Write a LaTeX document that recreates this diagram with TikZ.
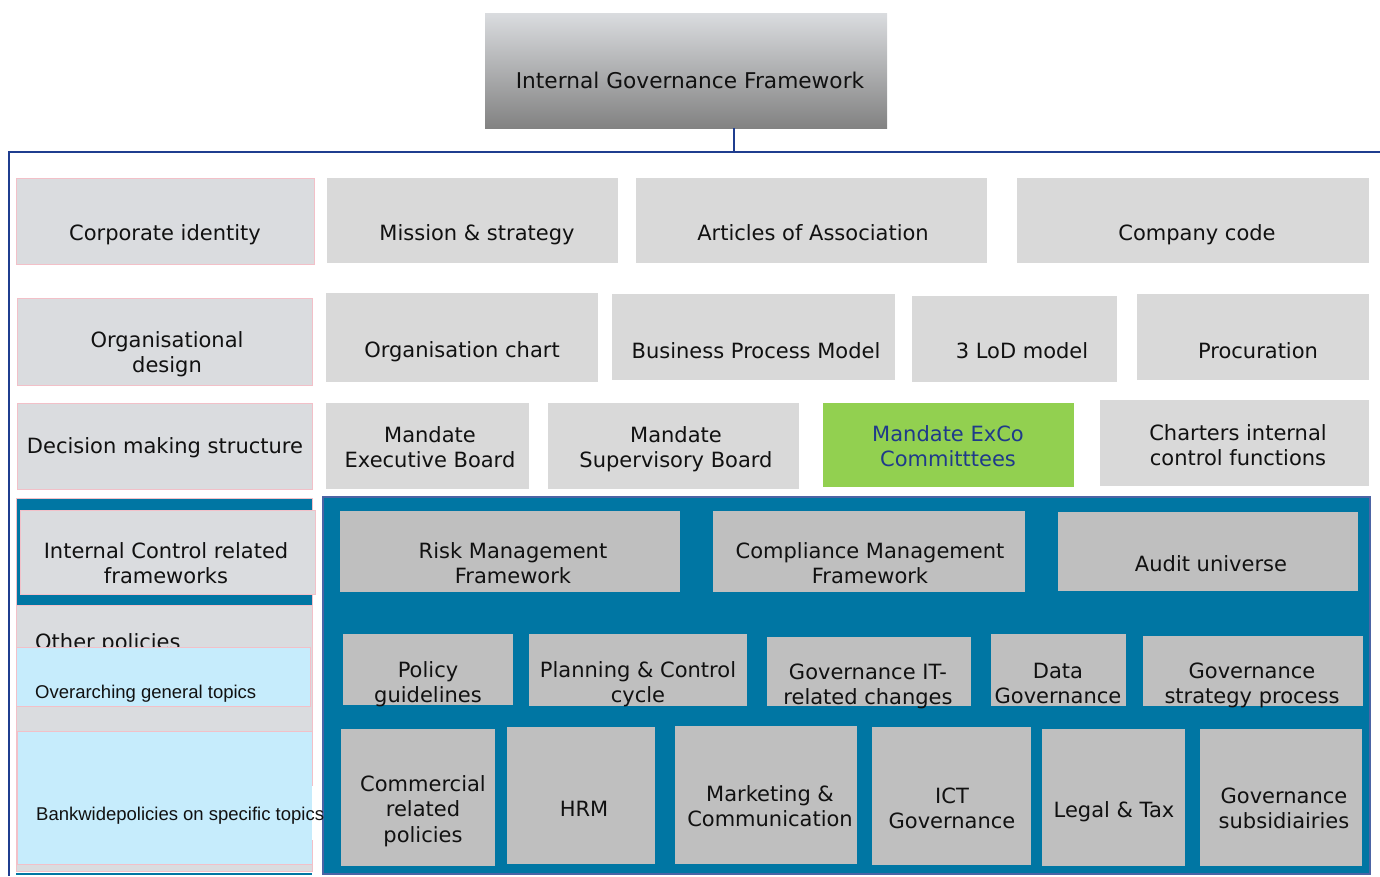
\documentclass[tikz,border=0pt]{standalone}
\usepackage{fontspec}
\setmainfont{DejaVu Sans}
\newfontfamily\arialf{Liberation Sans}
\usetikzlibrary{fit}
\definecolor{leftgray}{HTML}{DADCDF}
\definecolor{lgray}{HTML}{D9D9D9}
\definecolor{igray}{HTML}{BFBFBF}
\definecolor{pinkb}{HTML}{F2C0C8}
\definecolor{tblue}{HTML}{0076A3}
\definecolor{ltblue}{HTML}{C6ECFC}
\definecolor{lgreen}{HTML}{92D050}
\definecolor{navy}{HTML}{1F3A8A}
\definecolor{lineblue}{HTML}{1F3D8F}
\definecolor{txtc}{HTML}{111111}
\definecolor{titlebot}{HTML}{828282}
\begin{document}
\begin{tikzpicture}[x=1pt,y=-1pt,
  box/.style={inner sep=0pt, outer sep=0pt},
  lbox/.style={box, fill=leftgray, draw=pinkb, line width=1pt},
  gbox/.style={box, fill=lgray},
  ibox/.style={box, fill=igray},
  bbox/.style={box, fill=ltblue, draw=pinkb, line width=1pt},
  txt/.style={font=\fontsize{21}{25.5}\selectfont, align=center, anchor=base, inner sep=0pt, text=txtc},
  atxt/.style={font=\arialf\fontsize{18.5}{22}\selectfont, anchor=base west, inner sep=0pt, text=txtc},
  conn/.style={draw=lineblue, line width=1.5pt}]
\useasboundingbox (0,0) rectangle (1380,876);

% title
\node[box, top color=leftgray, bottom color=titlebot, fit={(485,13) (887,128)}] (igf) {};
\node[txt, font=\fontsize{21.7}{26}\selectfont] (tigf) at (690,88) {Internal Governance Framework};

% connectors
\coordinate (j) at (734,152);
\coordinate (hl) at (9,152);
\coordinate (hr) at (1380,152);
\coordinate (bl) at (9,876);
\draw[conn] (igf.south -| j) -- (j);
\draw[conn] (hr) -- (hl) -- (bl);

% row 1
\node[lbox, fit={(16,178) (314,264)}] (ci) {};
\node[txt] (tci) at (165,240) {Corporate identity};
\node[gbox, fit={(327,178) (618,263)}] (ms) {};
\node[txt] (tms) at (477,240) {Mission \& strategy};
\node[gbox, fit={(636,178) (987,263)}] (aa) {};
\node[txt] (taa) at (813,240) {Articles of Association};
\node[gbox, fit={(1017,178) (1369,263)}] (cc) {};
\node[txt] (tcc) at (1197,240) {Company code};

% row 2
\node[lbox, fit={(17,298) (312,385)}] (od) {};
\node[txt] (tod) at (167,372.5) {Organisational\\design};
\node[gbox, fit={(326,293) (598,382)}] (oc) {};
\node[txt] (toc) at (462,357) {Organisation chart};
\node[gbox, fit={(612,294) (895,380)}] (bpm) {};
\node[txt] (tbpm) at (756,358) {Business Process Model};
\node[gbox, fit={(912,296) (1117,382)}] (lod) {};
\node[txt] (tlod) at (1022,358) {3 LoD model};
\node[gbox, fit={(1137,294) (1369,380)}] (pro) {};
\node[txt] (tpro) at (1258,358) {Procuration};

% row 3
\node[lbox, fit={(17,403) (312,489)}] (dms) {};
\node[txt] (tdms) at (165,453) {Decision making structure};
\node[gbox, fit={(326,403) (529,489)}] (meb) {};
\node[txt] (tmeb) at (430,467.5) {Mandate\\Executive Board};
\node[gbox, fit={(548,403) (799,489)}] (msb) {};
\node[txt] (tmsb) at (676,467.5) {Mandate\\Supervisory Board};
\node[box, fill=lgreen, fit={(823,403) (1074,487)}] (mec) {};
\node[txt, text=navy] (tmec) at (948,466.5) {Mandate ExCo\\Committtees};
\node[gbox, fit={(1100,400) (1369,486)}] (cic) {};
\node[txt] (tcic) at (1238,465.5) {Charters internal\\control functions};

% left lower column
\node[box, fill=tblue, draw=pinkb, line width=1pt, fit={(16,498) (312,605)}] (lblue) {};
\node[lbox, fit={(20,510) (315,594)}] (icf) {};
\node[txt] (ticf) at (166,583.5) {Internal Control related\\frameworks};
\node[lbox, fit={(16,605) (312,871)}] (op) {};
\node[atxt, font=\fontsize{21}{25.5}\selectfont] (top) at (35,649) {Other policies};
\node[bbox, fit={(16,647) (310,706)}] (ogt) {};
\node[atxt] (togt) at (35,698) {Overarching general topics};
\node[bbox, fit={(17,731) (312,864)}] (bwp) {};
\node[box, fill=white, fit={(312,786) (325,840)}] (wpatch) {};
\node[box, fill=tblue, fit={(16,872.5) (312,874.5)}] (lbline) {};

% big blue area
\node[box, fill=tblue, draw=lineblue!80, line width=1.2pt, fit={(323,497) (1370,874)}] (area) {};
\node[atxt] (tbwp) at (36,820) {Bankwidepolicies on specific topics};

\node[ibox, fit={(340,511) (680,592)}] (rmf) {};
\node[txt] (trmf) at (513,583.5) {Risk Management\\Framework};
\node[ibox, fit={(713,511) (1025,592)}] (cmf) {};
\node[txt] (tcmf) at (870,583.5) {Compliance Management\\Framework};
\node[ibox, fit={(1058,512) (1358,591)}] (au) {};
\node[txt] (tau) at (1211,571) {Audit universe};

\node[ibox, fit={(343,634) (513,705)}] (pg) {};
\node[txt] (tpg) at (428,702.5) {Policy\\guidelines};
\node[ibox, fit={(529,634) (747,706)}] (pcc) {};
\node[txt] (tpcc) at (638,702.5) {Planning \& Control\\cycle};
\node[ibox, fit={(767,637) (971,706)}] (git) {};
\node[txt] (tgit) at (868,704.5) {Governance IT-\\related changes};
\node[ibox, fit={(991,634) (1126,706)}] (dg) {};
\node[txt] (tdg) at (1058,703.5) {Data\\Governance};
\node[ibox, fit={(1143,636) (1363,706)}] (gsp) {};
\node[txt] (tgsp) at (1252,703.5) {Governance\\strategy process};

\node[ibox, fit={(341,729) (495,866)}] (crp) {};
\node[txt] (tcrp) at (423,842) {Commercial\\related\\policies};
\node[ibox, fit={(507,727) (655,864)}] (hrm) {};
\node[txt] (thrm) at (584,816) {HRM};
\node[ibox, fit={(675,726) (857,864)}] (mc) {};
\node[txt] (tmc) at (770,826.5) {Marketing \&\\Communication};
\node[ibox, fit={(872,727) (1031,865)}] (ict) {};
\node[txt] (tict) at (952,828.5) {ICT\\Governance};
\node[ibox, fit={(1042,729) (1185,866)}] (lt) {};
\node[txt] (tlt) at (1114,817) {Legal \& Tax};
\node[ibox, fit={(1200,729) (1362,866)}] (gs) {};
\node[txt] (tgs) at (1284,828.5) {Governance\\subsidiairies};
\end{tikzpicture}
\end{document}
